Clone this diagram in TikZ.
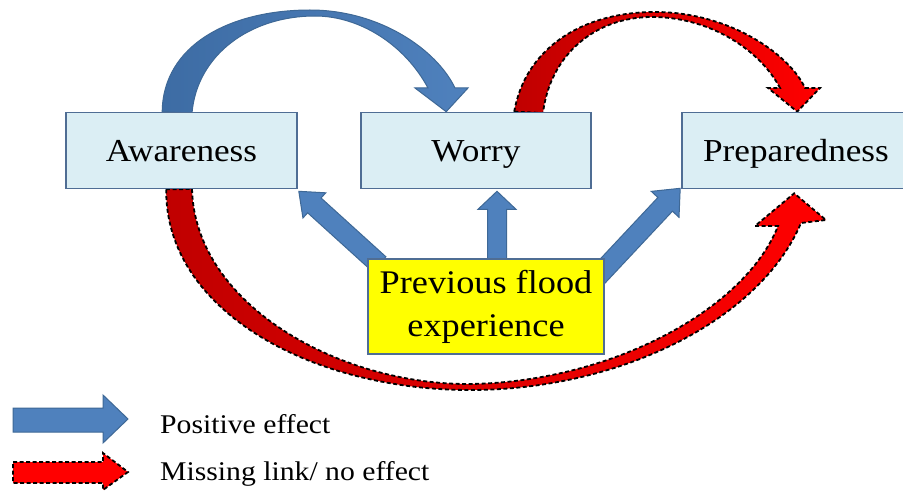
\documentclass[tikz,border=0pt]{standalone}
\usepackage{fontspec}
\setmainfont{Liberation Serif}[FakeStretch=1.1]
\usetikzlibrary{calc}
\pgfdeclarelayer{bg}
\pgfsetlayers{bg,main}
\definecolor{boxfill}{HTML}{DBEEF4}
\definecolor{boxline}{HTML}{4F6D94}
\definecolor{arrowblue}{HTML}{4F81BD}
\definecolor{arcblue}{HTML}{3D6CA4}
\definecolor{arrowline}{HTML}{3E6896}
\definecolor{flyellow}{HTML}{FFFF00}
\definecolor{brightred}{HTML}{FF0000}
\definecolor{darkred}{HTML}{C00000}
% #1 style, #2 base, #3 tip, #4 shaft half-width, #5 head half-width, #6 head length
\newcommand{\fatarrow}[6]{%
  \coordinate (fa-h) at ($(#3)!#6pt!(#2)$);
  \path[#1] ($(#2)!#4pt!90:(#3)$) -- ($(fa-h)!#4pt!-90:(#2)$) -- ($(fa-h)!#5pt!-90:(#2)$) -- (#3) -- ($(fa-h)!#5pt!90:(#2)$) -- ($(fa-h)!#4pt!90:(#2)$) -- ($(#2)!#4pt!-90:(#3)$) -- cycle;
}
\begin{document}
\begin{tikzpicture}[x=1pt,y=-1pt,
  box/.style={draw=boxline, line width=1.6pt, fill=boxfill, minimum height=76pt, inner sep=0pt,
    font=\fontsize{32}{38}\selectfont, text height=23pt, text depth=0pt},
  posarrow/.style={fill=arrowblue, draw=arrowline, line width=1pt, line join=miter},
  nolink/.style={draw=black, line width=1.8pt, dash pattern=on 4pt off 2.5pt, line join=miter},
  legendtext/.style={anchor=base west, inner sep=0pt, font=\fontsize{27}{32}\selectfont}]
\useasboundingbox (0,0) rectangle (903,492);
\begin{pgfonlayer}{bg}
\fill[white] (0,0) rectangle (903,492);
\end{pgfonlayer}
\clip (0,0) rectangle (903,492);

% boxes
\node[box, minimum width=231pt] (aw) at (181.5,150.5) {Awareness};
\node[box, minimum width=230pt] (wo) at (476,150.5) {Worry};
\node[box, minimum width=228pt] (pr) at (796,150.5) {Preparedness};
\node[draw=boxline, line width=1.6pt, fill=flyellow, minimum width=236pt, minimum height=95pt,
  inner sep=0pt, align=center, font=\fontsize{33}{43}\selectfont] (pfe) at (486,306.5)
  {Previous flood\\experience};

% connectors, behind the boxes
\begin{pgfonlayer}{bg}
\coordinate (t1) at ($(aw.south east)+(1,2)$);
\coordinate (b1) at ($(pfe.north west)+(12,6)$);
\coordinate (t2) at ($(wo.south)+(21,2)$);
\coordinate (b2) at ($(pfe.north)+(11,6)$);
\coordinate (t3) at ($(pr.south west)+(-1,-1)$);
\coordinate (b3) at ($(pfe.north east)+(-7,18)$);
\fatarrow{posarrow}{b1}{t1}{10}{17}{21}
\fatarrow{posarrow}{b2}{t2}{9.5}{19}{18}
\fatarrow{posarrow}{b3}{t3}{10}{19}{22}

% Awareness -> Worry (positive, curved)
\coordinate (a1) at ($(aw.north west)+(97,0)$);
\coordinate (a2) at ($(wo.north west)+(86,0)$);
\path[left color=arcblue, right color=arrowblue, draw=arrowline, line width=1pt, line join=miter]
  (a1) .. controls (163,45) and (230,10) .. (310,10)
       .. controls (380,10) and (437,50) .. (455,88)
  -- (468,88) -- (a2) -- (415,88) -- (428,88)
       .. controls (405,45) and (360,16) .. (315,16)
       .. controls (250,16) and (197,55) .. (192,113) -- cycle;

% Worry -> Preparedness (missing link, curved over the top)
\coordinate (r1) at ($(wo.north west)+(154,0)$);
\coordinate (r2) at ($(pr.north west)+(116,0)$);
\path[left color=darkred, right color=brightred, nolink]
  (r1) .. controls (525,50) and (580,12) .. (655,12)
       .. controls (730,12) and (790,55) .. (805,88)
  -- (820,88) -- (r2) -- (768,88) -- (780,88)
       .. controls (760,50) and (710,17) .. (652,17)
       .. controls (595,17) and (550,55) .. (543,113) -- cycle;

% Awareness -> Preparedness (missing link, curved underneath)
\coordinate (s1) at ($(aw.south west)+(101,0)$);
\coordinate (s2) at ($(pr.south west)+(113,4)$);
\path[left color=darkred, right color=brightred, nolink]
  (s1) .. controls (165,310) and (310,390) .. (470,390)
       .. controls (620,390) and (760,320) .. (801,223)
  -- (826,220) -- (s2) -- (755,226) -- (778,226)
       .. controls (745,310) and (610,382) .. (470,384)
       .. controls (340,385) and (195,305) .. (192,189) -- cycle;
\end{pgfonlayer}

% legend
\path[posarrow] (13,408) -- (103,408) -- (103,395) -- (128,419) -- (103,443) -- (103,432) -- (13,432) -- cycle;
\path[fill=brightred, nolink] (13,462) -- (103,462) -- (103,453) -- (128,472) -- (103,490) -- (103,483) -- (13,483) -- cycle;
\node[legendtext] (lp) at (160,433) {Positive effect};
\node[legendtext] (lm) at (160,480) {Missing link/ no effect};
\end{tikzpicture}
\end{document}
